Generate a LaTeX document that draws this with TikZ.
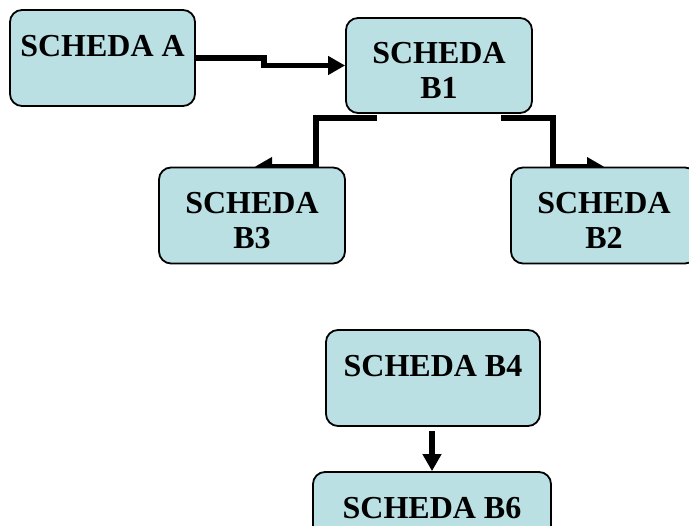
\documentclass[tikz,border=0pt]{standalone}
\usepackage{fontspec}
\setmainfont{Liberation Serif}
\usepackage{xcolor}
\usetikzlibrary{arrows.meta,backgrounds,positioning}
\definecolor{schedafill}{RGB}{186,224,227}
\newcommand{\schedtop}{\rule{0pt}{31pt}}

\begin{document}
\begin{tikzpicture}[x=1pt,y=-1pt,
    scheda/.style={draw,line width=1.8pt,fill=schedafill,rounded corners=12pt,
        inner sep=0pt,align=center,font=\fontsize{32}{34.5}\selectfont\bfseries},
    link/.style={line width=5.5pt,-{Triangle[length=17pt,width=18pt]}}]
    \useasboundingbox (0,0) rectangle (689,526);
    \clip (0,0) rectangle (689,526);

    % Schede
    \node[scheda,minimum width=185pt,minimum height=96pt] (A) at (102.5,58) {\schedtop SCHEDA A\\\mbox{}};
    \node[scheda,minimum width=186pt,minimum height=95pt] (B1) at (439,65.5) {\schedtop SCHEDA\\B1};
    \node[scheda,minimum width=186pt,minimum height=96pt] (B3) at (252,215.5) {\schedtop SCHEDA\\B3};
    \node[scheda,minimum width=186pt,minimum height=96pt] (B2) at (604,215.5) {\schedtop SCHEDA\\B2};
    \node[scheda,minimum width=214pt,minimum height=96pt] (B4) at (433,378) {\schedtop SCHEDA B4\\\mbox{}};
    \node[scheda,minimum width=238pt,minimum height=96pt] (B6) at (432,520) {\schedtop SCHEDA B6\\\mbox{}};

    % Collegamenti
    \begin{pgfonlayer}{background}
    \draw[link] (A.east) -- ++(68,0) |- (B1.west);
    \draw[link] ([xshift=-62pt,yshift=-4pt]B1.south) -| ([xshift=64pt]B3.north) -- ([xshift=3pt]B3.north);
    \draw[link] ([xshift=62pt,yshift=-4pt]B1.south) -| ([xshift=-51pt]B2.north) -- (B2.north);
    \draw[link] ([xshift=-1pt,yshift=-4pt]B4.south) -- (B6.north);
    \end{pgfonlayer}
\end{tikzpicture}
\end{document}
